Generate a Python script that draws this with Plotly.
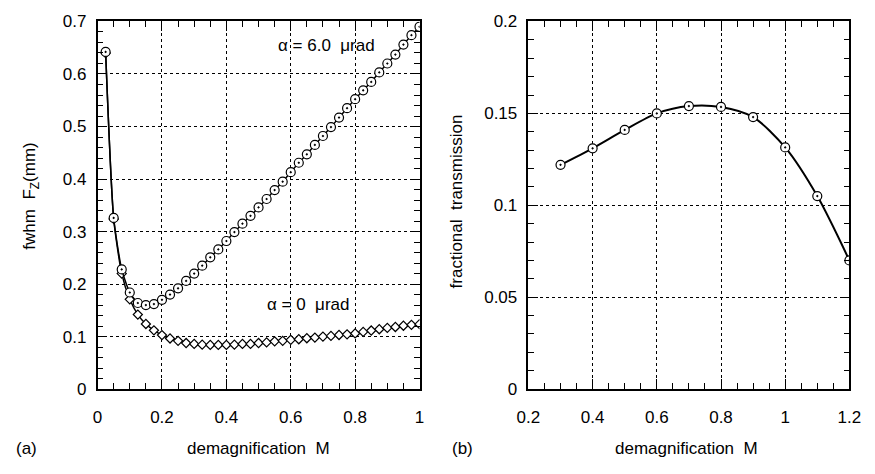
import plotly.graph_objects as go

# ---- data ----
m_a6 = [0.025, 0.05, 0.075, 0.1, 0.125, 0.15, 0.175, 0.2, 0.225, 0.25, 0.275, 0.3,
        0.325, 0.35, 0.375, 0.4, 0.425, 0.45, 0.475, 0.5, 0.525, 0.55, 0.575, 0.6,
        0.625, 0.65, 0.675, 0.7, 0.725, 0.75, 0.775, 0.8, 0.825, 0.85, 0.875, 0.9,
        0.925, 0.95, 0.975, 1.0]
fwhm_a6 = [0.642, 0.326, 0.228, 0.184, 0.164, 0.160, 0.162, 0.170, 0.180, 0.192, 0.206, 0.220,
           0.235, 0.251, 0.266, 0.282, 0.299, 0.315, 0.330, 0.346, 0.362, 0.379, 0.395, 0.413,
           0.431, 0.447, 0.465, 0.482, 0.499, 0.517, 0.535, 0.552, 0.569, 0.585, 0.603, 0.620,
           0.637, 0.656, 0.674, 0.690]

m_a0 = m_a6
fwhm_a0 = [0.640, 0.324, 0.220, 0.171, 0.142, 0.124, 0.112, 0.103, 0.0964, 0.092, 0.0878, 0.086,
           0.0847, 0.0841, 0.0841, 0.0841, 0.0847, 0.086, 0.086, 0.0878, 0.089, 0.091, 0.092, 0.0938,
           0.095, 0.0969, 0.0982, 0.100, 0.1013, 0.1031, 0.1043, 0.106, 0.109, 0.1116, 0.114, 0.1165,
           0.1183, 0.1207, 0.1225, 0.1237]

m_b = [0.3, 0.4, 0.5, 0.6, 0.7, 0.8, 0.9, 1.0, 1.1, 1.2]
trans_b = [0.122, 0.131, 0.141, 0.150, 0.154, 0.1535, 0.148, 0.1315, 0.105, 0.070]

label_a6 = "α = 6.0  μrad"
label_a0 = "α = 0  μrad"

FONT = "Liberation Sans, Arial, Helvetica, sans-serif"
FS = 17

fig = go.Figure()

fig.add_trace(go.Scatter(x=m_a0, y=fwhm_a0, mode="lines+markers",
                         line=dict(color="black", width=1.5, shape="spline", smoothing=0.6),
                         marker=dict(symbol="diamond", size=7, color="white",
                                     line=dict(color="black", width=1.2)),
                         xaxis="x", yaxis="y", showlegend=False))
fig.add_trace(go.Scatter(x=m_a6, y=fwhm_a6, mode="lines+markers",
                         line=dict(color="black", width=1.5, shape="spline", smoothing=0.6),
                         marker=dict(symbol="circle-dot", size=9, color="white",
                                     line=dict(color="black", width=1.2)),
                         xaxis="x", yaxis="y", showlegend=False))
fig.add_trace(go.Scatter(x=m_b, y=trans_b, mode="lines+markers",
                         line=dict(color="black", width=2, shape="spline", smoothing=0.8),
                         marker=dict(symbol="circle-dot", size=9, color="white",
                                     line=dict(color="black", width=1.2)),
                         xaxis="x2", yaxis="y2", showlegend=False))

W, H = 875, 474
yd = [1 - 396 / H, 1 - 13 / H]

def ax(domain, rng, dtick, minor, anchor, standoff):
    return dict(domain=domain, range=rng, dtick=dtick, tick0=0, anchor=anchor,
                showline=True, linecolor="black", linewidth=1.5, mirror="allticks",
                ticks="inside", ticklen=10, tickwidth=1, tickcolor="black",
                minor=dict(dtick=minor, ticks="inside", ticklen=6, tickwidth=1,
                           tickcolor="black", showgrid=False),
                showgrid=True, gridcolor="black", gridwidth=1, griddash="dot",
                zeroline=False, tickfont=dict(family=FONT, size=FS, color="black"),
                ticklabelstandoff=standoff)

fig.update_layout(
    width=W, height=H, margin=dict(l=0, r=0, t=0, b=0),
    paper_bgcolor="white", plot_bgcolor="white",
    font=dict(family=FONT, size=FS, color="black"),
    xaxis=ax([88 / W, 419 / W], [0, 1], 0.2, 0.05, "y", 12),
    yaxis=ax(yd, [0, 0.7], 0.1, 0.02, "x", 6),
    xaxis2=ax([531 / W, 861 / W], [0.2, 1.2], 0.2, 0.05, "y2", 12),
    yaxis2=ax(yd, [0, 0.2], 0.05, 0.01, "x2", 6),
)

def ann(text, x, y, angle=0, xanchor="center"):
    fig.add_annotation(text=text, x=x / W, y=1 - y / H, xref="paper", yref="paper",
                       showarrow=False, textangle=angle, xanchor=xanchor, yanchor="middle",
                       font=dict(family=FONT, size=FS, color="black"))

ann(label_a6, 323, 38)
ann(label_a0, 304, 308)
ann("fwhm  F<sub>Z</sub>(mm)", 20, 195, angle=-90)
ann("fractional  transmission", 458, 200, angle=-90)
ann("demagnification  M", 253, 458)
ann("demagnification  M", 694, 458)
ann("(a)", 15, 458)
ann("(b)", 463, 458)

fig.write_html("out.html")
